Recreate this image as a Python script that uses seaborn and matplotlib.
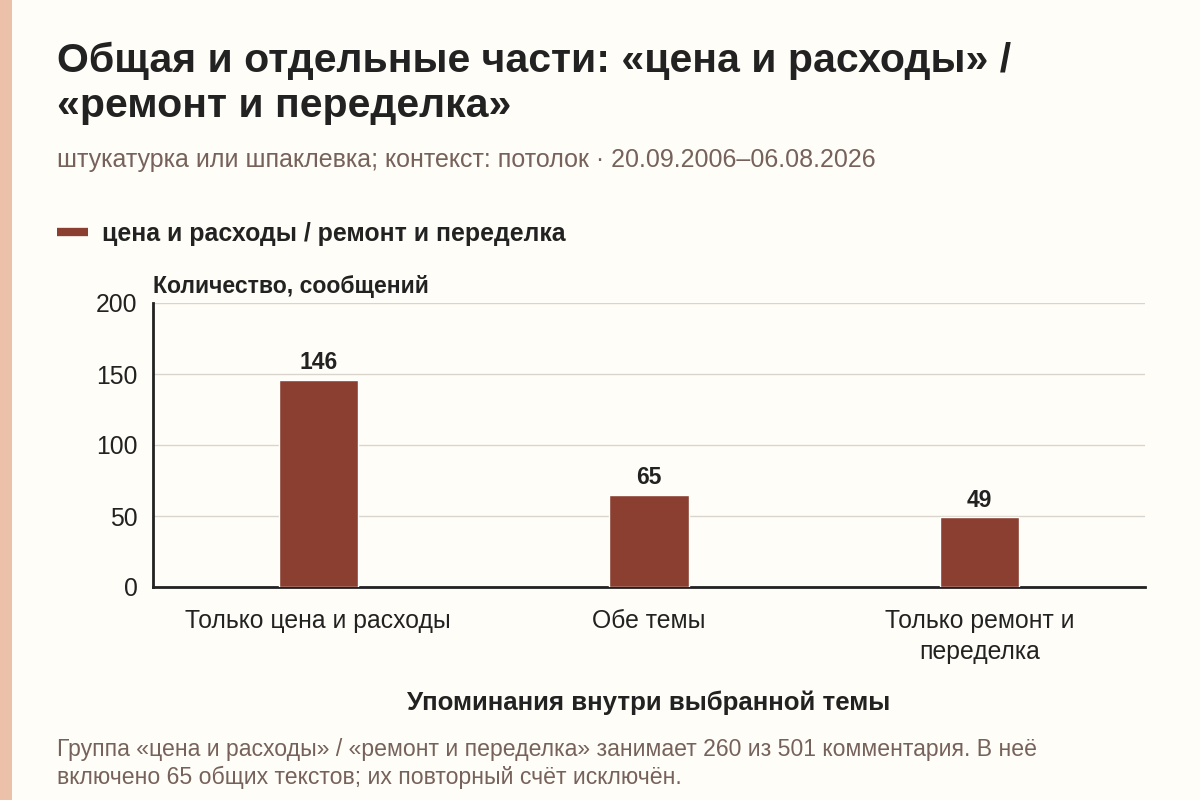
import pandas as pd
import matplotlib.pyplot as plt
import seaborn as sns
from matplotlib.lines import Line2D
from matplotlib.patches import Rectangle

# data
parts = ['Только цена и расходы', 'Обе темы', 'Только ремонт и\nпеределка']
counts = [146, 65, 49]
series_name = 'цена и расходы / ремонт и переделка'
y_ticks = [0, 50, 100, 150, 200]

bg = '#FFFDF7'
bar_color = '#8B3F30'
dark = '#222222'
muted = '#76625B'

sns.set_theme(style='white')
plt.rcParams['font.family'] = ['Liberation Sans', 'DejaVu Sans']

df = pd.DataFrame({'part': parts, 'count': counts})

fig = plt.figure(figsize=(12, 8), dpi=100, facecolor=bg)
ax = fig.add_axes([153/1200, 1 - 587/800, 992/1200, (587-303)/800])
ax.set_facecolor(bg)

sns.barplot(data=df, x='part', y='count', color=bar_color, width=0.24,
            saturation=1, ax=ax, zorder=3)

ax.set_ylim(0, 200)
ax.set_yticks(y_ticks)
ax.yaxis.grid(True, color='#D9D5CD', linewidth=1, zorder=0)
ax.set_axisbelow(True)
for s in ['top', 'right']:
    ax.spines[s].set_visible(False)
for s in ['left', 'bottom']:
    ax.spines[s].set_color(dark)
    ax.spines[s].set_linewidth(2)
ax.tick_params(axis='y', length=0, pad=11, labelsize=17.8, labelcolor=dark)
ax.tick_params(axis='x', length=6, width=1.5, color=dark, pad=10,
               labelsize=17.8, labelcolor=dark)
for lab in ax.get_xticklabels():
    lab.set_linespacing(1.35)
ax.set_ylabel('')
ax.set_xlabel('Упоминания внутри выбранной темы', fontsize=18.6,
              fontweight='bold', color=dark, labelpad=19)

# value labels
for c in ax.containers:
    ax.bar_label(c, fmt='%d', padding=4, fontsize=16.5, fontweight='bold', color=dark)

# title, subtitle
fig.text(57/1200, 1 - 72/800, 'Общая и отдельные части: «цена и расходы» /',
         fontsize=29.5, fontweight='bold', color=dark, va='baseline')
fig.text(57/1200, 1 - 117/800, '«ремонт и переделка»',
         fontsize=29.5, fontweight='bold', color=dark, va='baseline')
fig.text(57/1200, 1 - 167/800,
         'штукатурка или шпаклевка; контекст: потолок · 20.09.2006–06.08.2026',
         fontsize=18, color=muted, va='baseline')

# legend
handle = Line2D([], [], color=bar_color, linewidth=6, solid_capstyle='butt')
fig.legend([handle], [series_name], loc='center left',
           bbox_to_anchor=(57/1200, 1 - 234/800), frameon=False,
           prop={'size': 17.9, 'weight': 'bold'}, handlelength=1.25,
           handletextpad=0.55, borderpad=0, borderaxespad=0,
           labelcolor=dark)

# axis title above plot
fig.text(153/1200, 1 - 293/800, 'Количество, сообщений', fontsize=16.6,
         fontweight='bold', color=dark, va='baseline')

# footer
fig.text(57/1200, 1 - 738/800,
         'Группа «цена и расходы» / «ремонт и переделка» занимает 260 из 501 комментария. В неё\n'
         'включено 65 общих текстов; их повторный счёт исключён.',
         fontsize=16.6, color=muted, va='top', linespacing=1.25)

# left accent strip
fig.patches.append(Rectangle((0, 0), 12/1200, 1, transform=fig.transFigure,
                             facecolor='#EBC1A9', edgecolor='none'))

fig.savefig('out.png', dpi=100, facecolor=bg)
